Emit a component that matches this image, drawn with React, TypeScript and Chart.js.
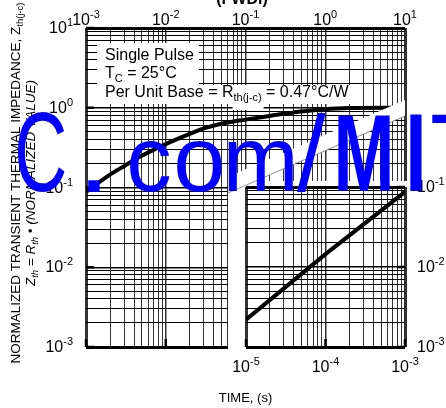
import React, { useEffect, useRef } from 'react';
import { Chart, registerables } from 'chart.js';

Chart.register(...registerables);

// ---------------- data ----------------
const pulseWidth = [1e-3, 2e-3, 3e-3, 5e-3, 1e-2, 2e-2, 3e-2, 5e-2, 0.1, 0.2, 0.3, 0.5, 1, 2, 5, 10];
const zthNormalized = [0.088, 0.145, 0.185, 0.25, 0.35, 0.47, 0.55, 0.63, 0.71, 0.79, 0.84, 0.9, 0.96, 0.99, 1.0, 1.0];
const insetPulseWidth = [1e-5, 1e-4, 1e-3];
const insetZth = [0.0022, 0.0145, 0.087];

const mainXDecades = [-3, -2, -1, 0, 1];
const mainYDecades = [-3, -2, -1, 0, 1];
const insetXDecades = [-5, -4, -3];
const insetYDecades = [-3, -2, -1];

const chartTitle = '(FWDi)';
const xAxisTitle = 'TIME, (s)';
const yTitle1 = 'NORMALIZED TRANSIENT THERMAL IMPEDANCE, Z';
const yTitle1Sub = 'th(j-c)';
const noteSingle = 'Single Pulse';
const noteTc = ['T', 'C', ' = 25°C'];
const noteBase = ['Per Unit Base = R', 'th(j-c)', ' = 0.47°C/W'];
const watermarkChars = ['C', '.', 'c', 'o', 'm', '/', 'M', 'I', 'T'];

const FONT = "'Liberation Sans', Arial, Helvetica, sans-serif";

// ---------------- helpers ----------------
function p10(e: number) {
  return Number(`1e${e}`);
}
function gridValues(decades: number[]) {
  const lo = Math.min(...decades);
  const hi = Math.max(...decades);
  const out: number[] = [];
  for (let e = lo; e < hi; e++) for (let m = 1; m <= 9; m++) out.push(Number(`${m}e${e}`));
  out.push(p10(hi));
  return out;
}
function isDecade(v: number) {
  const l = Math.log10(v);
  return Math.abs(l - Math.round(l)) < 1e-9;
}
function logAxis(position: string, decades: number[], color: string) {
  const min = p10(Math.min(...decades));
  const max = p10(Math.max(...decades));
  return {
    type: 'logarithmic',
    position,
    min,
    max,
    afterBuildTicks: (s: any) => {
      s.ticks = gridValues(decades).map((v) => ({ value: v, major: isDecade(v) }));
    },
    ticks: { display: false },
    border: { display: false },
    grid: {
      drawTicks: false,
      color,
      lineWidth: (c: any) => {
        const v = c.tick ? c.tick.value : NaN;
        if (v === min || v === max) return 3;
        return isDecade(v) ? 1.5 : 1;
      },
    },
  };
}

const edgeTicks = {
  id: 'edgeTicks',
  afterDraw(chart: any, _a: any, opts: any) {
    const { ctx, chartArea: ca, scales } = chart;
    ctx.save();
    ctx.strokeStyle = '#000';
    ctx.lineWidth = 2.5;
    const len = 8;
    (opts.x || []).forEach((side: string) => {
      scales.x.ticks.forEach((t: any) => {
        if (!isDecade(t.value)) return;
        const px = scales.x.getPixelForValue(t.value);
        ctx.beginPath();
        if (side === 'bottom') {
          ctx.moveTo(px, ca.bottom);
          ctx.lineTo(px, ca.bottom - len);
        } else {
          ctx.moveTo(px, ca.top);
          ctx.lineTo(px, ca.top + len);
        }
        ctx.stroke();
      });
    });
    (opts.y || []).forEach((side: string) => {
      scales.y.ticks.forEach((t: any) => {
        if (!isDecade(t.value)) return;
        const py = scales.y.getPixelForValue(t.value);
        ctx.beginPath();
        if (side === 'left') {
          ctx.moveTo(ca.left, py);
          ctx.lineTo(ca.left + len, py);
        } else {
          ctx.moveTo(ca.right, py);
          ctx.lineTo(ca.right - len, py);
        }
        ctx.stroke();
      });
    });
    ctx.restore();
  },
};

const whiteBg = {
  id: 'whiteBg',
  beforeDraw(chart: any) {
    const { ctx, width, height } = chart;
    ctx.save();
    ctx.fillStyle = '#fff';
    ctx.fillRect(0, 0, width, height);
    ctx.restore();
  },
};

function drawPow(ctx: CanvasRenderingContext2D, exp: number, x: number, y: number, align: string) {
  const base = '10';
  const sup = exp < 0 ? '-' + Math.abs(exp) : String(exp);
  ctx.font = `16px ${FONT}`;
  const wb = ctx.measureText(base).width;
  ctx.font = `11px ${FONT}`;
  const ws = ctx.measureText(sup).width;
  const total = wb + ws;
  const x0 = align === 'center' ? x - total / 2 : align === 'right' ? x - total : x;
  ctx.textAlign = 'left';
  ctx.textBaseline = 'alphabetic';
  ctx.font = `16px ${FONT}`;
  ctx.fillText(base, x0, y);
  ctx.font = `11px ${FONT}`;
  ctx.fillText(sup, x0 + wb, y - 7);
}

type Seg = { t: string; size: number; dy?: number; italic?: boolean };
function segWidth(ctx: CanvasRenderingContext2D, segs: Seg[]) {
  let w = 0;
  segs.forEach((s) => {
    ctx.font = `${s.italic ? 'italic ' : ''}${s.size}px ${FONT}`;
    w += ctx.measureText(s.t).width;
  });
  return w;
}
function drawSegs(ctx: CanvasRenderingContext2D, segs: Seg[], x: number, y: number) {
  let cx = x;
  ctx.textAlign = 'left';
  ctx.textBaseline = 'alphabetic';
  segs.forEach((s) => {
    ctx.font = `${s.italic ? 'italic ' : ''}${s.size}px ${FONT}`;
    ctx.fillText(s.t, cx, y + (s.dy || 0));
    cx += ctx.measureText(s.t).width;
  });
}

function drawOverlay(canvas: HTMLCanvasElement, main: any, inset: any, insetLeft: number, insetTop: number) {
  const ctx = canvas.getContext('2d')!;
  ctx.setTransform(1, 0, 0, 1, 0, 0);
  ctx.clearRect(0, 0, canvas.width, canvas.height);
  const mx = main.scales.x;
  const my = main.scales.y;
  const ix = inset.scales.x;
  const iy = inset.scales.y;
  const ca = main.chartArea;

  // white diagonal band (scan artefact)
  ctx.fillStyle = '#fff';
  ctx.beginPath();
  ctx.moveTo(228, 177);
  ctx.lineTo(ca.right, 100);
  ctx.lineTo(ca.right, 116);
  ctx.lineTo(228, 193);
  ctx.closePath();
  ctx.fill();
  ctx.strokeStyle = '#777';
  ctx.lineWidth = 0.8;
  ctx.beginPath();
  ctx.moveTo(228, 193);
  ctx.lineTo(ca.right, 116);
  ctx.stroke();

  ctx.fillStyle = '#000';

  // annotation block
  const nx = 105;
  ctx.font = `16px ${FONT}`;
  const w1 = ctx.measureText(noteSingle).width;
  const tcSegs: Seg[] = [
    { t: noteTc[0], size: 16 },
    { t: noteTc[1], size: 11, dy: 4 },
    { t: noteTc[2], size: 16 },
  ];
  const baseSegs: Seg[] = [
    { t: noteBase[0], size: 16 },
    { t: noteBase[1], size: 11, dy: 4 },
    { t: noteBase[2], size: 16 },
  ];
  const w2 = segWidth(ctx, tcSegs);
  const w3 = segWidth(ctx, baseSegs);
  ctx.fillStyle = '#fff';
  ctx.fillRect(ca.left + 11, 43, nx + Math.max(w1, w2) + 5 - (ca.left + 11), 43);
  ctx.fillRect(ca.left + 11, 85, nx + w3 + 5 - (ca.left + 11), 19);
  ctx.fillStyle = '#000';
  ctx.font = `16px ${FONT}`;
  ctx.fillText(noteSingle, nx, 60);
  drawSegs(ctx, tcSegs, nx, 78);
  ctx.font = `16px ${FONT}`;
  const rEnd = nx + ctx.measureText(noteBase[0]).width;
  ctx.font = `11px ${FONT}`;
  const subW = ctx.measureText(noteBase[1]).width;
  ctx.fillStyle = '#fff';
  ctx.fillRect(rEnd - 1, 100, subW + 3, 10);
  ctx.fillStyle = '#000';
  drawSegs(ctx, baseSegs, nx, 97);

  // title (cut at top)
  ctx.font = `bold 16px ${FONT}`;
  ctx.textAlign = 'center';
  ctx.textBaseline = 'alphabetic';
  ctx.fillText(chartTitle, 242, 4);

  // main axis tick labels
  mainXDecades.forEach((e) => drawPow(ctx, e, mx.getPixelForValue(p10(e)), 25, 'center'));
  mainYDecades.forEach((e) => drawPow(ctx, e, 73, my.getPixelForValue(p10(e)) + 5, 'right'));
  // inset axis labels
  insetXDecades.forEach((e) => drawPow(ctx, e, insetLeft + ix.getPixelForValue(p10(e)), 372, 'center'));
  insetYDecades.forEach((e) => drawPow(ctx, e, insetLeft + inset.chartArea.right + 12, insetTop + iy.getPixelForValue(p10(e)) + 5, 'left'));

  // x axis title
  ctx.font = `13px ${FONT}`;
  ctx.textAlign = 'center';
  ctx.fillText(xAxisTitle, (ca.left + ca.right) / 2, 402);

  // y axis titles (rotated)
  const cy = 183;
  const l1: Seg[] = [
    { t: yTitle1, size: 13.5 },
    { t: yTitle1Sub, size: 9.5, dy: 3 },
  ];
  const l2: Seg[] = [
    { t: 'Z', size: 13.5, italic: true },
    { t: 'th', size: 9.5, dy: 3, italic: true },
    { t: ' = R', size: 13.5, italic: true },
    { t: 'th', size: 9.5, dy: 3, italic: true },
    { t: ' • (NORMALIZED VALUE)', size: 13.5, italic: true },
  ];
  ctx.save();
  ctx.translate(20, cy);
  ctx.rotate(-Math.PI / 2);
  drawSegs(ctx, l1, -segWidth(ctx, l1) / 2, 0);
  ctx.restore();
  ctx.save();
  ctx.translate(35, cy);
  ctx.rotate(-Math.PI / 2);
  drawSegs(ctx, l2, -segWidth(ctx, l2) / 2, 0);
  ctx.restore();

  // watermark
  const boxes = [
    [18, 112, 65, 192],
    [88, 180, 100, 192],
    [130, 141, 170, 192],
    [177, 141, 222, 192],
    [228, 141, 293, 191],
    [297, 113, 326, 192],
    [338, 114, 390, 191],
    [410, 114, 422, 191],
    [432, 114, 490, 191],
  ];
  ctx.fillStyle = '#0000ff';
  ctx.textAlign = 'left';
  ctx.textBaseline = 'alphabetic';
  watermarkChars.forEach((ch, i) => {
    const [l, t, r, b] = boxes[i];
    ctx.setTransform(1, 0, 0, 1, 0, 0);
    ctx.font = `${ch === 'M' ? 'bold ' : ''}100px ${FONT}`;
    const m = ctx.measureText(ch);
    const bw = m.actualBoundingBoxLeft + m.actualBoundingBoxRight;
    const bh = m.actualBoundingBoxAscent + m.actualBoundingBoxDescent;
    const sx = (r - l) / bw;
    const sy = (b - t) / bh;
    ctx.setTransform(sx, 0, 0, sy, l + m.actualBoundingBoxLeft * sx, t + m.actualBoundingBoxAscent * sy);
    ctx.fillText(ch, 0, 0);
  });
  ctx.setTransform(1, 0, 0, 1, 0, 0);
}

export default function App() {
  const mainRef = useRef<HTMLCanvasElement>(null);
  const insetRef = useRef<HTMLCanvasElement>(null);
  const overlayRef = useRef<HTMLCanvasElement>(null);
  const insetLeft = 228;
  const insetTop = 181;

  useEffect(() => {
    const main = new Chart(mainRef.current as HTMLCanvasElement, {
      type: 'line',
      data: {
        datasets: [
          {
            data: pulseWidth.map((t, i) => ({ x: t, y: zthNormalized[i] })),
            borderColor: '#000',
            borderWidth: 4,
            pointRadius: 0,
            cubicInterpolationMode: 'monotone',
            fill: false,
          },
        ],
      },
      options: {
        responsive: false,
        animation: false,
        devicePixelRatio: 1,
        events: [],
        layout: { padding: { left: 86, top: 28, right: 41, bottom: 61 } },
        scales: {
          x: logAxis('top', mainXDecades, '#333') as any,
          y: logAxis('left', mainYDecades, '#000') as any,
        },
        plugins: {
          legend: { display: false },
          tooltip: { enabled: false },
          title: { display: false },
          edgeTicks: { x: ['bottom'], y: ['left'] },
        } as any,
      },
      plugins: [edgeTicks],
    });

    const inset = new Chart(insetRef.current as HTMLCanvasElement, {
      type: 'line',
      data: {
        datasets: [
          {
            data: insetPulseWidth.map((t, i) => ({ x: t, y: insetZth[i] })),
            borderColor: '#000',
            borderWidth: 4,
            pointRadius: 0,
            fill: false,
          },
        ],
      },
      options: {
        responsive: false,
        animation: false,
        devicePixelRatio: 1,
        events: [],
        layout: { padding: { left: 18, top: 6, right: 41, bottom: 61 } },
        scales: {
          x: logAxis('bottom', insetXDecades, '#333') as any,
          y: logAxis('right', insetYDecades, '#000') as any,
        },
        plugins: {
          legend: { display: false },
          tooltip: { enabled: false },
          title: { display: false },
          edgeTicks: { x: ['bottom'], y: ['right'] },
        } as any,
      },
      plugins: [whiteBg, edgeTicks],
    });

    drawOverlay(overlayRef.current as HTMLCanvasElement, main, inset, insetLeft, insetTop);

    return () => {
      main.destroy();
      inset.destroy();
    };
  }, []);

  return (
    <div style={{ position: 'absolute', left: 0, top: 0, width: 446, height: 408, background: '#fff', overflow: 'hidden' }}>
      <canvas ref={mainRef} width={446} height={408} style={{ position: 'absolute', left: 0, top: 0 }} />
      <canvas ref={insetRef} width={218} height={227} style={{ position: 'absolute', left: insetLeft, top: insetTop }} />
      <canvas
        ref={overlayRef}
        width={446}
        height={408}
        style={{ position: 'absolute', left: 0, top: 0, pointerEvents: 'none' }}
      />
    </div>
  );
}
